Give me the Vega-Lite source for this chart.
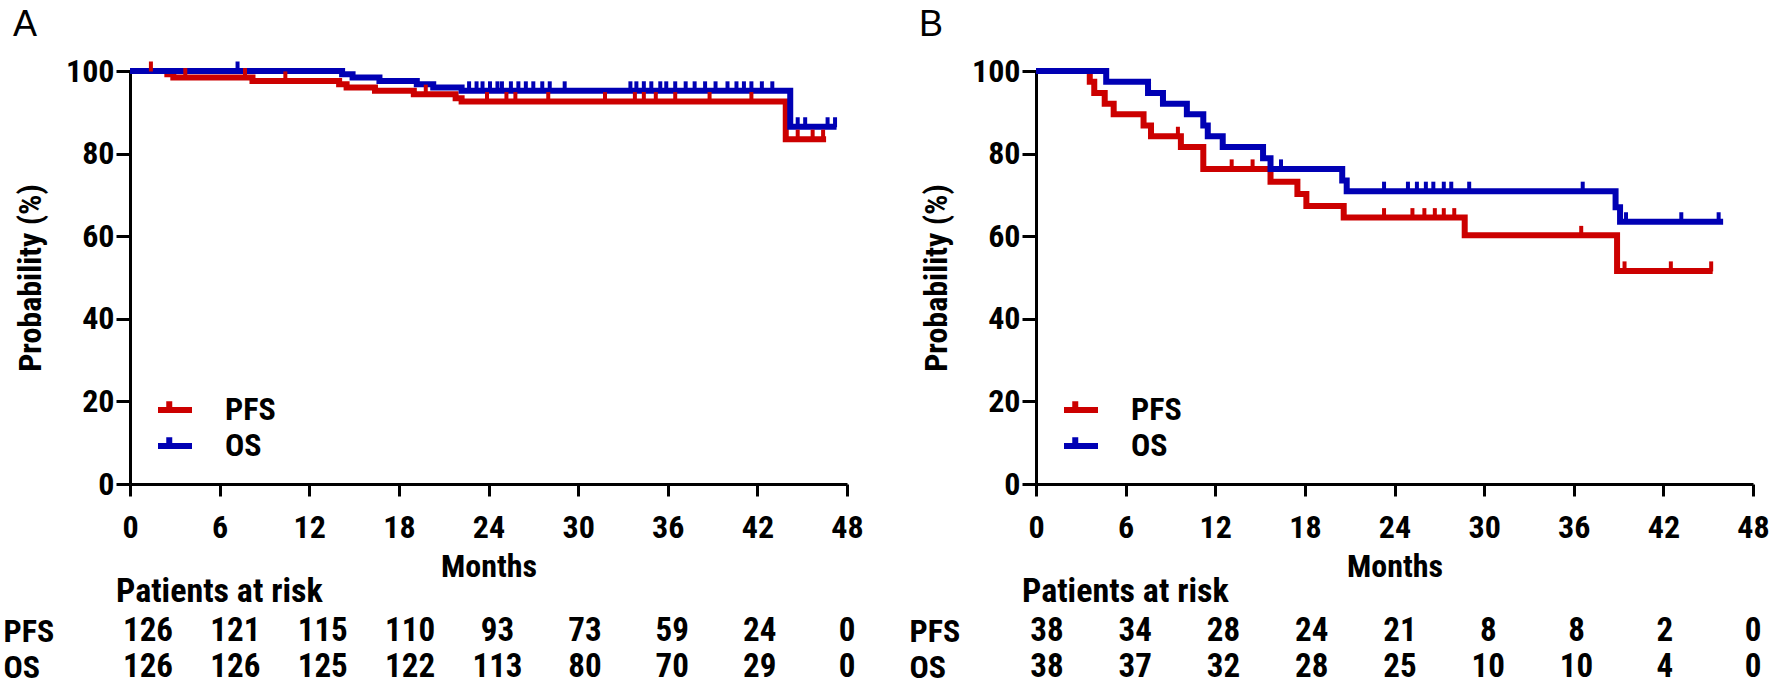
{
"$schema": "https://vega.github.io/schema/vega-lite/v6.json",
"autosize": {"type": "pad"},
"padding": {"left": 3, "top": 7, "right": 5, "bottom": 0},
"background": "white",
"config": {
 "view": {"stroke": null},
 "font": "Roboto Condensed, Liberation Sans Narrow, DejaVu Sans Condensed, Liberation Sans, sans-serif",
 "axis": {"domainColor": "black", "domainWidth": 3, "tickColor": "black", "tickWidth": 3, "tickSize": 12, "labelFont": "Roboto Condensed, Liberation Sans Narrow, DejaVu Sans Condensed, Liberation Sans, sans-serif", "labelFontSize": 32, "labelFontWeight": "bold", "labelColor": "black", "titleFont": "Roboto Condensed, Liberation Sans Narrow, DejaVu Sans Condensed, Liberation Sans, sans-serif", "titleFontSize": 32, "titleFontWeight": "bold", "titleColor": "black", "grid": false, "labelOverlap": false, "labelFlush": false}
},
"datasets": {
 "curves": [
  {"panel":"A","series":"PFS","t":0,"s":100},{"panel":"A","series":"PFS","t":2.5,"s":99.2},{"panel":"A","series":"PFS","t":2.9,"s":98.4},{"panel":"A","series":"PFS","t":8.2,"s":97.6},{"panel":"A","series":"PFS","t":14.0,"s":96.8},{"panel":"A","series":"PFS","t":14.5,"s":96.0},{"panel":"A","series":"PFS","t":16.4,"s":95.2},{"panel":"A","series":"PFS","t":19.0,"s":94.4},{"panel":"A","series":"PFS","t":21.8,"s":93.4},{"panel":"A","series":"PFS","t":22.2,"s":92.6},{"panel":"A","series":"PFS","t":43.9,"s":83.5},{"panel":"A","series":"PFS","t":46.6,"s":83.5},
  {"panel":"A","series":"OS","t":0,"s":100},{"panel":"A","series":"OS","t":14.2,"s":99.2},{"panel":"A","series":"OS","t":14.9,"s":98.4},{"panel":"A","series":"OS","t":16.7,"s":97.6},{"panel":"A","series":"OS","t":19.2,"s":96.8},{"panel":"A","series":"OS","t":20.3,"s":96.0},{"panel":"A","series":"OS","t":22.2,"s":95.2},{"panel":"A","series":"OS","t":44.2,"s":86.5},{"panel":"A","series":"OS","t":47.3,"s":86.5},
  {"panel":"B","series":"PFS","t":0,"s":100},{"panel":"B","series":"PFS","t":3.6,"s":97.4},{"panel":"B","series":"PFS","t":3.9,"s":94.7},{"panel":"B","series":"PFS","t":4.6,"s":92.1},{"panel":"B","series":"PFS","t":5.2,"s":89.5},{"panel":"B","series":"PFS","t":7.2,"s":86.8},{"panel":"B","series":"PFS","t":7.7,"s":84.2},{"panel":"B","series":"PFS","t":9.7,"s":81.6},{"panel":"B","series":"PFS","t":11.2,"s":76.3},{"panel":"B","series":"PFS","t":15.7,"s":73.2},{"panel":"B","series":"PFS","t":17.5,"s":70.2},{"panel":"B","series":"PFS","t":18.1,"s":67.3},{"panel":"B","series":"PFS","t":20.6,"s":64.5},{"panel":"B","series":"PFS","t":28.7,"s":60.2},{"panel":"B","series":"PFS","t":38.9,"s":51.6},{"panel":"B","series":"PFS","t":45.3,"s":51.6},
  {"panel":"B","series":"OS","t":0,"s":100},{"panel":"B","series":"OS","t":4.7,"s":97.4},{"panel":"B","series":"OS","t":7.5,"s":94.7},{"panel":"B","series":"OS","t":8.5,"s":92.1},{"panel":"B","series":"OS","t":10.1,"s":89.5},{"panel":"B","series":"OS","t":11.2,"s":86.8},{"panel":"B","series":"OS","t":11.5,"s":84.2},{"panel":"B","series":"OS","t":12.5,"s":81.6},{"panel":"B","series":"OS","t":15.2,"s":78.9},{"panel":"B","series":"OS","t":15.7,"s":76.3},{"panel":"B","series":"OS","t":20.5,"s":73.5},{"panel":"B","series":"OS","t":20.8,"s":70.9},{"panel":"B","series":"OS","t":38.8,"s":67.0},{"panel":"B","series":"OS","t":39.1,"s":63.5},{"panel":"B","series":"OS","t":46.0,"s":63.5}
 ],
 "censor": [
  {"panel":"A","series":"PFS","t":1.4,"s":100},{"panel":"A","series":"PFS","t":3.7,"s":98.4},{"panel":"A","series":"PFS","t":7.7,"s":98.4},{"panel":"A","series":"PFS","t":10.4,"s":97.6},{"panel":"A","series":"PFS","t":19.8,"s":94.4},{"panel":"A","series":"PFS","t":23.9,"s":92.6},{"panel":"A","series":"PFS","t":25.2,"s":92.6},{"panel":"A","series":"PFS","t":25.8,"s":92.6},{"panel":"A","series":"PFS","t":28.0,"s":92.6},{"panel":"A","series":"PFS","t":31.8,"s":92.6},{"panel":"A","series":"PFS","t":33.8,"s":92.6},{"panel":"A","series":"PFS","t":34.4,"s":92.6},{"panel":"A","series":"PFS","t":35.2,"s":92.6},{"panel":"A","series":"PFS","t":36.5,"s":92.6},{"panel":"A","series":"PFS","t":38.8,"s":92.6},{"panel":"A","series":"PFS","t":41.6,"s":92.6},{"panel":"A","series":"PFS","t":44.7,"s":83.5},{"panel":"A","series":"PFS","t":45.7,"s":83.5},{"panel":"A","series":"PFS","t":46.4,"s":83.5},
  {"panel":"A","series":"OS","t":7.2,"s":100},{"panel":"A","series":"OS","t":22.7,"s":95.2},{"panel":"A","series":"OS","t":23.2,"s":95.2},{"panel":"A","series":"OS","t":23.6,"s":95.2},{"panel":"A","series":"OS","t":24.1,"s":95.2},{"panel":"A","series":"OS","t":24.6,"s":95.2},{"panel":"A","series":"OS","t":24.9,"s":95.2},{"panel":"A","series":"OS","t":25.5,"s":95.2},{"panel":"A","series":"OS","t":26.0,"s":95.2},{"panel":"A","series":"OS","t":26.5,"s":95.2},{"panel":"A","series":"OS","t":27.0,"s":95.2},{"panel":"A","series":"OS","t":27.6,"s":95.2},{"panel":"A","series":"OS","t":28.1,"s":95.2},{"panel":"A","series":"OS","t":29.1,"s":95.2},{"panel":"A","series":"OS","t":33.5,"s":95.2},{"panel":"A","series":"OS","t":33.9,"s":95.2},{"panel":"A","series":"OS","t":34.4,"s":95.2},{"panel":"A","series":"OS","t":34.9,"s":95.2},{"panel":"A","series":"OS","t":35.5,"s":95.2},{"panel":"A","series":"OS","t":35.9,"s":95.2},{"panel":"A","series":"OS","t":36.5,"s":95.2},{"panel":"A","series":"OS","t":37.2,"s":95.2},{"panel":"A","series":"OS","t":37.8,"s":95.2},{"panel":"A","series":"OS","t":38.5,"s":95.2},{"panel":"A","series":"OS","t":39.2,"s":95.2},{"panel":"A","series":"OS","t":40.0,"s":95.2},{"panel":"A","series":"OS","t":40.6,"s":95.2},{"panel":"A","series":"OS","t":41.1,"s":95.2},{"panel":"A","series":"OS","t":41.6,"s":95.2},{"panel":"A","series":"OS","t":42.3,"s":95.2},{"panel":"A","series":"OS","t":43.0,"s":95.2},{"panel":"A","series":"OS","t":44.7,"s":86.5},{"panel":"A","series":"OS","t":45.2,"s":86.5},{"panel":"A","series":"OS","t":46.7,"s":86.5},{"panel":"A","series":"OS","t":47.2,"s":86.5},
  {"panel":"B","series":"PFS","t":9.5,"s":84.2},{"panel":"B","series":"PFS","t":13.1,"s":76.3},{"panel":"B","series":"PFS","t":14.5,"s":76.3},{"panel":"B","series":"PFS","t":23.3,"s":64.5},{"panel":"B","series":"PFS","t":25.2,"s":64.5},{"panel":"B","series":"PFS","t":26.0,"s":64.5},{"panel":"B","series":"PFS","t":26.7,"s":64.5},{"panel":"B","series":"PFS","t":27.3,"s":64.5},{"panel":"B","series":"PFS","t":28.0,"s":64.5},{"panel":"B","series":"PFS","t":36.5,"s":60.2},{"panel":"B","series":"PFS","t":39.4,"s":51.6},{"panel":"B","series":"PFS","t":42.5,"s":51.6},{"panel":"B","series":"PFS","t":45.2,"s":51.6},
  {"panel":"B","series":"OS","t":16.4,"s":76.3},{"panel":"B","series":"OS","t":23.3,"s":70.9},{"panel":"B","series":"OS","t":24.9,"s":70.9},{"panel":"B","series":"OS","t":25.5,"s":70.9},{"panel":"B","series":"OS","t":26.1,"s":70.9},{"panel":"B","series":"OS","t":26.6,"s":70.9},{"panel":"B","series":"OS","t":27.3,"s":70.9},{"panel":"B","series":"OS","t":27.8,"s":70.9},{"panel":"B","series":"OS","t":29.0,"s":70.9},{"panel":"B","series":"OS","t":36.6,"s":70.9},{"panel":"B","series":"OS","t":39.5,"s":63.5},{"panel":"B","series":"OS","t":43.2,"s":63.5},{"panel":"B","series":"OS","t":45.7,"s":63.5}
 ],
 "risk": [
  {"panel":"A","series":"PFS","t":0,"n":126},{"panel":"A","series":"PFS","t":6,"n":121},{"panel":"A","series":"PFS","t":12,"n":115},{"panel":"A","series":"PFS","t":18,"n":110},{"panel":"A","series":"PFS","t":24,"n":93},{"panel":"A","series":"PFS","t":30,"n":73},{"panel":"A","series":"PFS","t":36,"n":59},{"panel":"A","series":"PFS","t":42,"n":24},{"panel":"A","series":"PFS","t":48,"n":0},
  {"panel":"A","series":"OS","t":0,"n":126},{"panel":"A","series":"OS","t":6,"n":126},{"panel":"A","series":"OS","t":12,"n":125},{"panel":"A","series":"OS","t":18,"n":122},{"panel":"A","series":"OS","t":24,"n":113},{"panel":"A","series":"OS","t":30,"n":80},{"panel":"A","series":"OS","t":36,"n":70},{"panel":"A","series":"OS","t":42,"n":29},{"panel":"A","series":"OS","t":48,"n":0},
  {"panel":"B","series":"PFS","t":0,"n":38},{"panel":"B","series":"PFS","t":6,"n":34},{"panel":"B","series":"PFS","t":12,"n":28},{"panel":"B","series":"PFS","t":18,"n":24},{"panel":"B","series":"PFS","t":24,"n":21},{"panel":"B","series":"PFS","t":30,"n":8},{"panel":"B","series":"PFS","t":36,"n":8},{"panel":"B","series":"PFS","t":42,"n":2},{"panel":"B","series":"PFS","t":48,"n":0},
  {"panel":"B","series":"OS","t":0,"n":38},{"panel":"B","series":"OS","t":6,"n":37},{"panel":"B","series":"OS","t":12,"n":32},{"panel":"B","series":"OS","t":18,"n":28},{"panel":"B","series":"OS","t":24,"n":25},{"panel":"B","series":"OS","t":30,"n":10},{"panel":"B","series":"OS","t":36,"n":10},{"panel":"B","series":"OS","t":42,"n":4},{"panel":"B","series":"OS","t":48,"n":0}
 ]
},
"resolve": {"scale": {"color": "independent"}, "legend": {"color": "independent"}},
"spacing": 45,
"hconcat": [
 {
  "bounds": "flush",
  "spacing": 129,
  "resolve": {"scale": {"color": "independent", "x": "independent"}, "legend": {"color": "independent"}},
  "vconcat": [
   {
    "title": {"text": "A", "anchor": "start", "frame": "group", "dx": -117, "offset": -17, "baseline": "alphabetic", "fontSize": 36, "fontWeight": "normal", "font": "Liberation Sans", "color": "black"},
    "width": 717, "height": 413,
    "layer": [
     {"data": {"name": "curves"}, "transform": [{"filter": "datum.panel === 'A'"}],
      "mark": {"type": "line", "interpolate": "step-after", "strokeWidth": 6},
      "encoding": {
       "x": {"field": "t", "type": "quantitative", "scale": {"domain": [0, 48], "nice": false}, "axis": {"values": [0,6,12,18,24,30,36,42,48], "title": "Months", "labelPadding": 16, "titlePadding": 8}},
       "y": {"field": "s", "type": "quantitative", "scale": {"domain": [0, 100], "nice": false}, "axis": {"values": [0,20,40,60,80,100], "title": "Probability (%)", "labelPadding": 2, "tickSize": 14, "titlePadding": 18}},
       "color": {"field": "series", "type": "nominal", "scale": {"domain": ["PFS", "OS"], "range": ["#CC0000", "#0000B4"]},
        "legend": {"orient": "none", "legendX": 28, "legendY": 321, "title": null, "symbolType": "M-1.49,0L0.05,0M-0.72,0L-0.72,-0.3", "symbolSize": 3481, "symbolStrokeWidth": 6, "labelFontSize": 32, "labelFont": "Roboto Condensed, Liberation Sans Narrow, DejaVu Sans Condensed, Liberation Sans, sans-serif", "labelFontWeight": "bold", "labelColor": "black", "labelOffset": 2, "clipHeight": 36, "padding": 0, "rowPadding": -3}}
      }},
     {"data": {"name": "censor"}, "transform": [{"filter": "datum.panel === 'A' && datum.series === 'PFS'"}],
      "mark": {"type": "tick", "orient": "vertical", "size": 10, "thickness": 4, "color": "#CC0000", "opacity": 1, "yOffset": -4.5},
      "encoding": {"x": {"field": "t", "type": "quantitative"}, "y": {"field": "s", "type": "quantitative"}}},
     {"data": {"name": "censor"}, "transform": [{"filter": "datum.panel === 'A' && datum.series === 'OS'"}],
      "mark": {"type": "tick", "orient": "vertical", "size": 10, "thickness": 4, "color": "#0000B4", "opacity": 1, "yOffset": -4.5},
      "encoding": {"x": {"field": "t", "type": "quantitative"}, "y": {"field": "s", "type": "quantitative"}}}
    ]
   },
   {
    "width": 717, "height": 72,
    "title": {"text": "Patients at risk", "anchor": "start", "frame": "group", "dx": -14, "offset": -23, "baseline": "alphabetic", "fontSize": 34, "fontWeight": "bold", "font": "Roboto Condensed, Liberation Sans Narrow, DejaVu Sans Condensed, Liberation Sans, sans-serif", "color": "black"},
    "data": {"name": "risk"}, "transform": [{"filter": "datum.panel === 'A'"}],
    "mark": {"type": "text", "fontSize": 33, "fontWeight": "bold", "font": "Roboto Condensed, Liberation Sans Narrow, DejaVu Sans Condensed, Liberation Sans, sans-serif", "color": "black", "baseline": "middle"},
    "encoding": {
     "x": {"field": "t", "type": "quantitative", "scale": {"domain": [0, 48], "nice": false, "range": [18, 717]}, "axis": null},
     "y": {"field": "series", "type": "nominal", "sort": ["PFS", "OS"], "axis": {"title": null, "domain": false, "ticks": false, "tickSize": 0, "labelAlign": "left", "labelPadding": 127, "labelBaseline": "middle"}},
     "text": {"field": "n", "type": "quantitative"}
    }
   }
  ]
 },
 {
  "bounds": "flush",
  "spacing": 129,
  "resolve": {"scale": {"color": "independent", "x": "independent"}, "legend": {"color": "independent"}},
  "vconcat": [
   {
    "title": {"text": "B", "anchor": "start", "frame": "group", "dx": -117, "offset": -17, "baseline": "alphabetic", "fontSize": 36, "fontWeight": "normal", "font": "Liberation Sans", "color": "black"},
    "width": 717, "height": 413,
    "layer": [
     {"data": {"name": "curves"}, "transform": [{"filter": "datum.panel === 'B'"}],
      "mark": {"type": "line", "interpolate": "step-after", "strokeWidth": 6},
      "encoding": {
       "x": {"field": "t", "type": "quantitative", "scale": {"domain": [0, 48], "nice": false}, "axis": {"values": [0,6,12,18,24,30,36,42,48], "title": "Months", "labelPadding": 16, "titlePadding": 8}},
       "y": {"field": "s", "type": "quantitative", "scale": {"domain": [0, 100], "nice": false}, "axis": {"values": [0,20,40,60,80,100], "title": "Probability (%)", "labelPadding": 2, "tickSize": 14, "titlePadding": 18}},
       "color": {"field": "series", "type": "nominal", "scale": {"domain": ["PFS", "OS"], "range": ["#CC0000", "#0000B4"]},
        "legend": {"orient": "none", "legendX": 28, "legendY": 321, "title": null, "symbolType": "M-1.49,0L0.05,0M-0.72,0L-0.72,-0.3", "symbolSize": 3481, "symbolStrokeWidth": 6, "labelFontSize": 32, "labelFont": "Roboto Condensed, Liberation Sans Narrow, DejaVu Sans Condensed, Liberation Sans, sans-serif", "labelFontWeight": "bold", "labelColor": "black", "labelOffset": 2, "clipHeight": 36, "padding": 0, "rowPadding": -3}}
      }},
     {"data": {"name": "censor"}, "transform": [{"filter": "datum.panel === 'B' && datum.series === 'PFS'"}],
      "mark": {"type": "tick", "orient": "vertical", "size": 10, "thickness": 4, "color": "#CC0000", "opacity": 1, "yOffset": -4.5},
      "encoding": {"x": {"field": "t", "type": "quantitative"}, "y": {"field": "s", "type": "quantitative"}}},
     {"data": {"name": "censor"}, "transform": [{"filter": "datum.panel === 'B' && datum.series === 'OS'"}],
      "mark": {"type": "tick", "orient": "vertical", "size": 10, "thickness": 4, "color": "#0000B4", "opacity": 1, "yOffset": -4.5},
      "encoding": {"x": {"field": "t", "type": "quantitative"}, "y": {"field": "s", "type": "quantitative"}}}
    ]
   },
   {
    "width": 717, "height": 72,
    "title": {"text": "Patients at risk", "anchor": "start", "frame": "group", "dx": -14, "offset": -23, "baseline": "alphabetic", "fontSize": 34, "fontWeight": "bold", "font": "Roboto Condensed, Liberation Sans Narrow, DejaVu Sans Condensed, Liberation Sans, sans-serif", "color": "black"},
    "data": {"name": "risk"}, "transform": [{"filter": "datum.panel === 'B'"}],
    "mark": {"type": "text", "fontSize": 33, "fontWeight": "bold", "font": "Roboto Condensed, Liberation Sans Narrow, DejaVu Sans Condensed, Liberation Sans, sans-serif", "color": "black", "baseline": "middle"},
    "encoding": {
     "x": {"field": "t", "type": "quantitative", "scale": {"domain": [0, 48], "nice": false, "range": [11, 717]}, "axis": null},
     "y": {"field": "series", "type": "nominal", "sort": ["PFS", "OS"], "axis": {"title": null, "domain": false, "ticks": false, "tickSize": 0, "labelAlign": "left", "labelPadding": 127, "labelBaseline": "middle"}},
     "text": {"field": "n", "type": "quantitative"}
    }
   }
  ]
 }
]
}
